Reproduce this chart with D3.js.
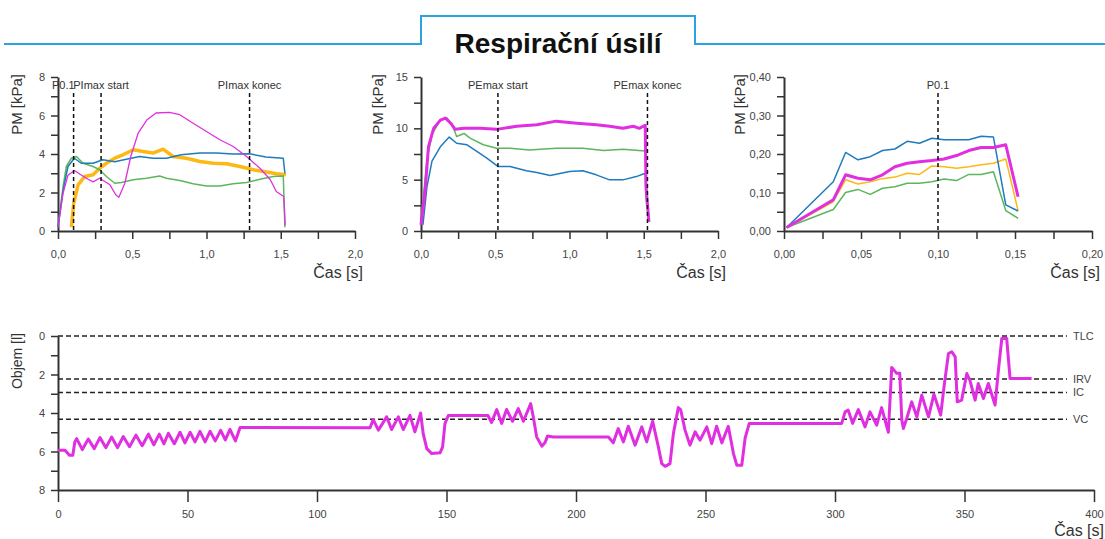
<!DOCTYPE html>
<html>
<head>
<meta charset="utf-8">
<script src="https://cdn.jsdelivr.net/npm/d3@7"></script>
<style>
  body { margin: 0; background: #fff; }
  svg { display: block; font-family: "Liberation Sans", Arial, sans-serif; }
</style>
</head>
<body>
<script>
// ---- data ----
const titleText = "Respirační úsilí";

// PImax panel [t s, kPa]
const pimaxBlue = [[0,0.2],[0.034,2.1],[0.067,3.35],[0.11,3.78],[0.157,3.52],[0.236,3.52],[0.303,3.7],[0.382,3.6],[0.46,3.73],[0.55,3.87],[0.64,3.78],[0.73,3.78],[0.83,3.96],[0.955,4.05],[1.067,4.05],[1.18,4.0],[1.29,4.01],[1.40,3.84],[1.517,3.78],[1.528,3.0]];
const pimaxGreen = [[0,0.2],[0.034,2.3],[0.056,3.35],[0.09,3.78],[0.124,3.87],[0.169,3.52],[0.236,3.35],[0.281,3.18],[0.326,2.83],[0.382,2.48],[0.427,2.52],[0.506,2.66],[0.596,2.74],[0.685,2.86],[0.73,2.74],[0.82,2.62],[0.91,2.45],[1.0,2.34],[1.09,2.34],[1.18,2.45],[1.27,2.52],[1.36,2.69],[1.45,2.83],[1.517,2.86],[1.528,0.2]];
const pimaxOrange = [[0.09,0.2],[0.106,1.44],[0.135,2.4],[0.18,2.83],[0.236,2.92],[0.281,3.26],[0.326,3.52],[0.382,3.78],[0.438,3.96],[0.506,4.22],[0.573,4.13],[0.64,4.05],[0.708,4.25],[0.775,3.87],[0.865,3.78],[0.955,3.61],[1.045,3.52],[1.135,3.49],[1.225,3.35],[1.315,3.18],[1.404,3.06],[1.472,2.97],[1.535,2.92]];
const pimaxMagenta = [[0,0.2],[0.034,1.96],[0.067,2.9],[0.11,3.14],[0.19,2.74],[0.236,2.55],[0.28,2.74],[0.35,2.4],[0.39,1.87],[0.41,1.75],[0.45,2.48],[0.49,3.87],[0.54,5.09],[0.6,5.78],[0.66,6.13],[0.75,6.16],[0.82,6.04],[0.91,5.6],[1.0,5.17],[1.09,4.74],[1.18,4.39],[1.27,3.87],[1.36,3.26],[1.43,2.66],[1.47,2.05],[1.52,1.79],[1.53,0.3]];
const pimaxMarkers = [0.105, 0.29, 1.29];
const pimaxMarkerLabels = ["P0.1", "PImax start", "PImax konec"];
const pimaxXTicks = [0,0.25,0.5,0.75,1,1.25,1.5,1.75,2];
const pimaxYTicks = [0,1,2,3,4,5,6,7,8];

// PEmax panel
const pemaxMagenta = [[0,0.6],[0.03,4.3],[0.05,8.2],[0.085,10.0],[0.13,10.8],[0.165,11.0],[0.2,10.5],[0.23,9.9],[0.29,10.0],[0.4,10.0],[0.51,9.9],[0.645,10.2],[0.78,10.35],[0.91,10.7],[1.05,10.5],[1.18,10.35],[1.27,10.2],[1.36,10.0],[1.43,10.2],[1.47,10.0],[1.51,10.3],[1.515,4.3],[1.535,0.9]];
const pemaxGreen = [[0,1.0],[0.04,6.9],[0.074,9.4],[0.13,10.8],[0.175,11.0],[0.21,10.35],[0.24,9.2],[0.29,9.5],[0.33,9.05],[0.42,8.4],[0.51,8.07],[0.6,8.07],[0.73,7.9],[0.91,8.07],[1.09,8.07],[1.23,7.85],[1.36,7.97],[1.51,7.8],[1.52,3.7],[1.53,1.0]];
const pemaxBlue = [[0.013,0.6],[0.04,4.3],[0.074,6.8],[0.13,8.2],[0.19,9.15],[0.24,8.55],[0.31,8.4],[0.376,7.75],[0.443,7.1],[0.52,6.28],[0.6,6.28],[0.71,5.86],[0.78,5.7],[0.87,5.4],[1.0,5.8],[1.09,5.86],[1.18,5.47],[1.27,4.98],[1.36,4.98],[1.45,5.3],[1.51,5.63],[1.52,2.4]];
const pemaxMarkers = [0.518, 1.525];
const pemaxMarkerLabels = ["PEmax start", "PEmax konec"];
const pemaxXTicks = [0,0.25,0.5,0.75,1,1.25,1.5,1.75,2];
const pemaxYTicks = [0,2.5,5,7.5,10,12.5,15];

// P0.1 panel
const p01Times = [0.0017,0.032,0.04,0.048,0.056,0.064,0.072,0.08,0.088,0.096,0.104,0.112,0.12,0.128,0.136,0.144,0.152];
const p01Blue = [0.009,0.128,0.204,0.185,0.193,0.209,0.213,0.233,0.228,0.241,0.237,0.237,0.237,0.246,0.244,0.068,0.052];
const p01Magenta = [0.009,0.081,0.146,0.137,0.133,0.146,0.167,0.176,0.180,0.183,0.187,0.196,0.209,0.217,0.217,0.224,0.089];
const p01Orange = [0.009,0.076,0.133,0.122,0.128,0.136,0.140,0.150,0.147,0.169,0.167,0.163,0.167,0.172,0.176,0.187,0.053];
const p01Green = [0.009,0.056,0.100,0.108,0.095,0.111,0.115,0.124,0.124,0.128,0.135,0.131,0.147,0.147,0.154,0.053,0.033];
const p01Markers = [0.1];
const p01MarkerLabels = ["P0.1"];
const p01XTicks = [0,0.025,0.05,0.075,0.1,0.125,0.15,0.175,0.2];
const p01YTicks = [0,0.05,0.1,0.15,0.2,0.25,0.3,0.35,0.4];

// volume trace [t s, l]
const volumeTrace = [[0,5.93],[2.7,5.93],[4.4,6.19],[5.7,6.19],[6.5,5.5],[7.2,5.33],
  [9.4,5.9],[11.7,5.35],[14,5.85],[16.2,5.28],[18.5,5.8],[20.7,5.25],[23,5.8],[25.2,5.22],[27.6,5.75],[30.1,5.15],[32.5,5.7],[34.9,5.1],[37,5.65],[39.1,5.1],[40.9,5.6],[42.6,5.05],[44.9,5.6],[47.1,5.0],[49,5.55],[51,5.0],[52.9,5.5],[54.8,4.95],[56.8,5.5],[58.7,4.95],[60.7,5.45],[62.8,4.9],[64.6,5.4],[66.4,4.85],[68.5,5.45],[70.3,4.75],
  [120.5,4.77],[121.7,4.34],[123.7,4.89],[126.9,4.2],[128.8,4.86],[131.4,4.2],[133.3,4.86],[135.9,4.12],[137.8,4.98],[140,4.0],[141,5.07],[142.4,5.85],[144.3,6.11],[147.5,6.07],[148.5,5.76],[149.4,4.55],[150.7,4.13],[166,4.13],
  [167.4,4.49],[169.4,3.82],[171.3,4.54],[173.2,3.82],[175.5,4.43],[177.7,3.77],[179.7,4.43],[182.5,3.51],[183.5,4.2],[184.8,5.24],[186.8,5.72],[188,5.55],[189,5.2],[191.2,5.25],[212.5,5.25],
  [214.4,5.55],[216.3,4.81],[218.3,5.5],[220.2,4.69],[222.8,5.67],[225.4,4.72],[227.3,5.5],[229.6,4.43],[231.8,5.76],[233.1,6.63],[234.4,6.77],[236.3,6.63],[237.6,5.07],[239.5,3.72],[240.4,3.82],[242.1,4.89],[244,5.67],[246,4.98],[247.9,5.41],[250.5,4.72],[252.4,5.59],[254.3,4.69],[256.3,5.55],[258.8,4.69],[260.8,6.11],[262.1,6.72],[264,6.72],[265.3,5.3],[266.9,4.54],[302.6,4.54],
  [303.9,3.94],[305.1,3.85],[306.8,4.54],[309,3.82],[311.6,4.72],[313.5,3.94],[316.1,4.63],[318,3.72],[320.6,5.0],[321.9,1.63],[323.8,1.94],[325,1.94],[325.8,4.37],[326.4,4.8],[327.7,4.28],[329.6,3.42],[331.6,4.2],[333.5,3.07],[336.1,4.2],[338.2,3.02],[340.8,4.11],[342.1,2.63],[343.8,0.91],[345.1,0.82],[346.4,1.08],[347.2,3.42],[348.9,3.33],[350.9,1.95],[352.1,2.3],[354.1,3.33],[355.3,2.47],[357.3,3.25],[359.2,2.47],[361.8,3.59],[363.1,1.77],[364.4,0.13],[366.3,0.13],[367.6,2.21],[375.9,2.21]];
const volumeLevels = [0, 2.24, 2.93, 4.32];
const volumeLevelLabels = ["TLC", "IRV", "IC", "VC"];
const volumeXTicks = [0,50,100,150,200,250,300,350,400];
const volumeYTicks = [0,1,2,3,4,5,6,7,8];

const blue = "#1f7bbd", green = "#5cb65c", orange = "#fdb813", magenta = "#e02fe0";
const axisColor = "#333";

const svg = d3.select("body").append("svg").attr("width", 1105).attr("height", 539);

// title tab
svg.append("path")
  .attr("d", "M4,44H421V16H695V44H1105")
  .attr("fill", "none").attr("stroke", "#2aa3e2").attr("stroke-width", 2);
svg.append("text").attr("x", 558).attr("y", 53).attr("text-anchor", "middle")
  .attr("font-size", 28).attr("font-weight", "bold").attr("fill", "#111").text(titleText);

const comma = f => (d => d3.format(f)(d).replace(".", ","));

function drawAxes(g, x, y, o) {
  const xa = d3.axisBottom(x).tickValues(o.xTicks).tickSize(o.xTickSize).tickSizeOuter(0).tickPadding(o.xPad)
    .tickFormat((d, i) => i % o.xEvery === 0 ? o.xFmt(d) : "");
  const ya = d3.axisLeft(y).tickValues(o.yTicks).tickSize(7).tickSizeOuter(0).tickPadding(6)
    .tickFormat((d, i) => i % o.yEvery === 0 ? o.yFmt(d) : "");
  const gx = g.append("g").attr("transform", `translate(0,${y.range()[0]})`).call(xa);
  const gy = g.append("g").attr("transform", `translate(${x.range()[0]},0)`).call(ya);
  [gx, gy].forEach(a => {
    a.select(".domain").attr("stroke", axisColor).attr("stroke-width", 2);
    a.selectAll(".tick line").attr("stroke", axisColor).attr("stroke-width", 1.5);
    a.selectAll("text").attr("font-size", 11).attr("fill", "#444")
      .attr("font-family", "'Liberation Sans', Arial, sans-serif");
  });
}

function lineFor(x, y) {
  return d3.line().x(d => x(d[0])).y(d => y(d[1]));
}

function topPanel(o) {
  const g = svg.append("g");
  const x = d3.scaleLinear().domain(o.xDomain).range([o.left, o.right]);
  const y = d3.scaleLinear().domain(o.yDomain).range([231, 77]);
  drawAxes(g, x, y, {xTicks: o.xTicks, yTicks: o.yTicks, xEvery: 2, yEvery: 2,
    xFmt: o.xFmt, yFmt: o.yFmt, xTickSize: 8, xPad: 11});
  const line = lineFor(x, y);
  o.series.forEach(s => {
    g.append("path").datum(s.data).attr("d", line).attr("fill", "none")
      .attr("stroke", s.color).attr("stroke-width", s.width).attr("stroke-linejoin", "round");
  });
  o.markers.forEach((m, i) => {
    g.append("line").attr("x1", x(m)).attr("x2", x(m)).attr("y1", 93).attr("y2", 231)
      .attr("stroke", "#111").attr("stroke-width", 1.5).attr("stroke-dasharray", "4,3");
    // a label crowded by the next marker is set to end at its own line
    const crowded = i + 1 < o.markers.length && x(o.markers[i + 1]) - x(m) < 40;
    g.append("text").attr("x", crowded ? x(m) + 1 : x(m)).attr("y", 89)
      .attr("text-anchor", crowded ? "end" : "middle")
      .attr("font-size", 11).attr("fill", "#333")
      .text(o.markerLabels[i]);
  });
  g.append("text").attr("transform", `translate(${o.ylabX},74) rotate(-90)`)
    .attr("text-anchor", "end").attr("dominant-baseline", "middle")
    .attr("font-size", 15).attr("fill", "#333").text("PM [kPa]");
  g.append("text").attr("x", o.right + 8).attr("y", 278).attr("text-anchor", "end")
    .attr("font-size", 16).attr("fill", "#333").text("Čas [s]");
}

const zip = (ts, vs) => ts.map((t, i) => [t, vs[i]]);

topPanel({
  left: 58, right: 355, xDomain: [0, 2], yDomain: [0, 8],
  xTicks: pimaxXTicks, yTicks: pimaxYTicks, xFmt: comma(".1f"), yFmt: d3.format("d"),
  series: [
    {data: pimaxOrange, color: orange, width: 3.5},
    {data: pimaxGreen, color: green, width: 1.5},
    {data: pimaxBlue, color: blue, width: 1.5},
    {data: pimaxMagenta, color: magenta, width: 1.3}
  ],
  markers: pimaxMarkers, markerLabels: pimaxMarkerLabels, ylabX: 18
});

topPanel({
  left: 421, right: 718, xDomain: [0, 2], yDomain: [0, 15],
  xTicks: pemaxXTicks, yTicks: pemaxYTicks, xFmt: comma(".1f"), yFmt: d3.format("d"),
  series: [
    {data: pemaxBlue, color: blue, width: 1.5},
    {data: pemaxGreen, color: green, width: 1.5},
    {data: pemaxMagenta, color: magenta, width: 3}
  ],
  markers: pemaxMarkers, markerLabels: pemaxMarkerLabels, ylabX: 379
});

topPanel({
  left: 784, right: 1092, xDomain: [0, 0.2], yDomain: [0, 0.4],
  xTicks: p01XTicks, yTicks: p01YTicks, xFmt: comma(".2f"), yFmt: comma(".2f"),
  series: [
    {data: zip(p01Times, p01Green), color: green, width: 1.5},
    {data: zip(p01Times, p01Orange), color: orange, width: 1.5},
    {data: zip(p01Times, p01Blue), color: blue, width: 1.5},
    {data: zip(p01Times, p01Magenta), color: magenta, width: 3}
  ],
  markers: p01Markers, markerLabels: p01MarkerLabels, ylabX: 741
});

// volume panel
(function () {
  const g = svg.append("g");
  const x = d3.scaleLinear().domain([0, 400]).range([58, 1094]);
  const y = d3.scaleLinear().domain([8, 0]).range([490, 336]);
  drawAxes(g, x, y, {xTicks: volumeXTicks, yTicks: volumeYTicks, xEvery: 1, yEvery: 2,
    xFmt: d3.format("d"), yFmt: d3.format("d"), xTickSize: 12, xPad: 8});
  volumeLevels.forEach((v, i) => {
    g.append("line").attr("x1", 58).attr("x2", 1067).attr("y1", y(v)).attr("y2", y(v))
      .attr("stroke", "#222").attr("stroke-width", 1.5).attr("stroke-dasharray", "5,3");
    g.append("text").attr("x", 1073).attr("y", y(v)).attr("dy", "0.35em")
      .attr("font-size", 11).attr("fill", "#444").text(volumeLevelLabels[i]);
  });
  g.append("path").datum(volumeTrace).attr("d", lineFor(x, y)).attr("fill", "none")
    .attr("stroke", magenta).attr("stroke-width", 3).attr("stroke-linejoin", "round");
  g.append("text").attr("transform", "translate(18,333) rotate(-90)")
    .attr("text-anchor", "end").attr("dominant-baseline", "middle")
    .attr("font-size", 14).attr("fill", "#333").text("Objem [l]");
  g.append("text").attr("x", 1104).attr("y", 536).attr("text-anchor", "end")
    .attr("font-size", 16).attr("fill", "#333").text("Čas [s]");
})();
</script>
</body>
</html>
